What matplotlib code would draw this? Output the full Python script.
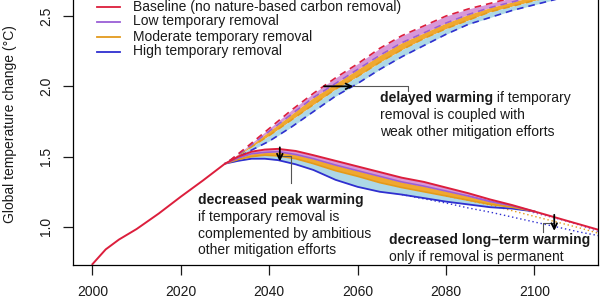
import matplotlib
matplotlib.use("Agg")
import matplotlib.pyplot as plt
from matplotlib.lines import Line2D

plt.rcParams['font.family'] = ['Liberation Sans', 'DejaVu Sans']
plt.rcParams['font.size'] = 10

# ---------------- data ----------------
base_years = [2000, 2003, 2006, 2010, 2015, 2020, 2025, 2030, 2033, 2036, 2039, 2042,
              2046, 2050, 2055, 2060, 2065, 2070, 2075, 2080, 2085, 2090, 2095, 2100,
              2105, 2110, 2115]
base_vals = [0.735, 0.84, 0.91, 0.985, 1.095, 1.215, 1.33, 1.45, 1.50, 1.535, 1.55, 1.555,
             1.54, 1.51, 1.47, 1.43, 1.39, 1.35, 1.32, 1.28, 1.24, 1.195, 1.155, 1.11,
             1.065, 1.02, 0.975]

# lower (ambitious mitigation) bundle
low_years = [2030, 2033, 2036, 2039, 2042, 2046, 2050, 2055, 2060, 2065, 2070, 2075,
             2080, 2085, 2090, 2095, 2100]
low_base = [1.45, 1.50, 1.535, 1.55, 1.555, 1.54, 1.51, 1.47, 1.43, 1.39, 1.35, 1.32,
            1.28, 1.24, 1.195, 1.155, 1.11]
low_low = [1.45, 1.49, 1.52, 1.53, 1.535, 1.515, 1.485, 1.44, 1.40, 1.36, 1.32, 1.29,
           1.255, 1.22, 1.18, 1.15, 1.11]
low_mod = [1.45, 1.48, 1.50, 1.51, 1.505, 1.485, 1.45, 1.40, 1.36, 1.315, 1.28, 1.25,
           1.22, 1.19, 1.16, 1.14, 1.11]
low_high = [1.45, 1.47, 1.485, 1.485, 1.475, 1.445, 1.405, 1.335, 1.285, 1.25, 1.23, 1.205,
            1.18, 1.16, 1.14, 1.13, 1.11]

# upper (weak mitigation) bundle
up_years = [2031, 2035, 2040, 2045, 2050, 2055, 2060, 2065, 2070, 2075, 2080, 2085,
            2090, 2095, 2100, 2105, 2110]
up_base = [1.47, 1.57, 1.70, 1.83, 1.95, 2.06, 2.16, 2.27, 2.36, 2.43, 2.50, 2.55,
           2.59, 2.63, 2.67, 2.70, 2.73]
up_low = [1.47, 1.56, 1.68, 1.80, 1.92, 2.02, 2.12, 2.22, 2.31, 2.38, 2.45, 2.51,
          2.56, 2.60, 2.64, 2.67, 2.70]
up_mod = [1.47, 1.55, 1.65, 1.76, 1.87, 1.98, 2.07, 2.17, 2.26, 2.34, 2.41, 2.47,
          2.53, 2.57, 2.61, 2.65, 2.68]
up_high = [1.47, 1.53, 1.61, 1.71, 1.82, 1.93, 2.02, 2.12, 2.21, 2.29, 2.37, 2.44,
           2.49, 2.54, 2.58, 2.62, 2.66]

# permanent removal (dotted)
perm_high_years = [2070, 2075, 2080, 2085, 2090, 2095, 2100, 2105, 2110, 2115]
perm_high = [1.23, 1.20, 1.17, 1.135, 1.105, 1.07, 1.035, 1.00, 0.965, 0.935]
perm_mod_years = [2080, 2085, 2090, 2095, 2100, 2105, 2110, 2115]
perm_mod = [1.22, 1.19, 1.155, 1.115, 1.075, 1.035, 0.995, 0.95]
perm_low_years = [2085, 2090, 2095, 2100, 2105, 2110, 2115]
perm_low = [1.22, 1.185, 1.145, 1.10, 1.06, 1.015, 0.96]

legend_labels = ["Baseline (no nature-based carbon removal)", "Low temporary removal",
                 "Moderate temporary removal", "High temporary removal"]
x_ticks = [2000, 2020, 2040, 2060, 2080, 2100]
y_ticks = [1.0, 1.5, 2.0, 2.5]
y_tick_labels = ["1.0", "1.5", "2.0", "2.5"]

# ---------------- styles ----------------
RED = "#DC1E3C"
PURPLE = "#9A5FD6"
ORANGE = "#E39A1C"
BLUE = "#2F2FD0"
F_PINK = "#D898D8"
F_ORANGE = "#F0A830"
F_BLUE = "#ADD8E6"
TXT = "#1a1a1a"

fig = plt.figure(figsize=(6, 3), dpi=100)
ax = fig.add_axes([73/600, 35/300, 525/600, 265/300])
ax.set_xlim(1995.6, 2114.4)
ax.set_ylim(0.729, 2.614)

# fills
ax.fill_between(up_years, up_base, up_low, color=F_PINK, lw=0)
ax.fill_between(up_years, up_low, up_mod, color=F_ORANGE, lw=0)
ax.fill_between(up_years, up_mod, up_high, color=F_BLUE, lw=0)
ax.fill_between(low_years, low_base, low_low, color=F_PINK, lw=0)
ax.fill_between(low_years, low_low, low_mod, color=F_ORANGE, lw=0)
ax.fill_between(low_years, low_mod, low_high, color=F_BLUE, lw=0)

dash = (0, (4, 3))
dot = (0, (1, 2))
ax.plot(up_years, up_high, color=BLUE, lw=1.2, ls=dash)
ax.plot(up_years, up_mod, color=ORANGE, lw=1.2, ls=dash)
ax.plot(up_years, up_low, color=PURPLE, lw=1.2, ls=dash)
ax.plot(up_years, up_base, color=RED, lw=1.2, ls=dash)

ax.plot(perm_high_years, perm_high, color=BLUE, lw=1.0, ls=dot)
ax.plot(perm_mod_years, perm_mod, color=ORANGE, lw=1.0, ls=dot)
ax.plot(perm_low_years, perm_low, color=PURPLE, lw=1.0, ls=dot)

ax.plot(low_years, low_high, color=BLUE, lw=1.3)
ax.plot(low_years, low_mod, color=ORANGE, lw=1.2)
ax.plot(low_years, low_low, color=PURPLE, lw=1.2)
ax.plot(base_years, base_vals, color=RED, lw=1.4)

# axes styling
for s in ["left", "bottom", "right"]:
    ax.spines[s].set_linewidth(0.9)
ax.spines["top"].set_visible(False)
ax.set_xticks(x_ticks)
ax.set_xticklabels([str(v) for v in x_ticks])
ax.set_yticks(y_ticks)
ax.set_yticklabels(y_tick_labels, rotation=90, va="center")
ax.tick_params(axis="both", length=7.2, width=0.9, direction="out", labelsize=10, colors=TXT)
ax.tick_params(axis="x", pad=7)
ax.tick_params(axis="y", pad=7)

fig.text(10/600, 1 - 124/300, "Global temperature change (°C)", rotation=90,
         ha="center", va="center", fontsize=10, color=TXT)

# legend (manual)
leg_colors = [RED, PURPLE, ORANGE, BLUE]
for i, (lab, col) in enumerate(zip(legend_labels, leg_colors)):
    yp = 1 - (6.5 + 15 * i) / 300
    fig.add_artist(Line2D([97/600, 120/600], [yp, yp], color=col, lw=1.3,
                          transform=fig.transFigure))
    fig.text(133/600, yp, lab, ha="left", va="center", fontsize=10, color=TXT)

# annotations
CONN = "#555555"
arrow_kw = dict(arrowstyle="->", lw=1.3, color="black", mutation_scale=10,
                shrinkA=0, shrinkB=0)

# delayed warming
ax.annotate("", xy=(2059.0, 2.0), xytext=(2052.4, 2.0), arrowprops=arrow_kw)
ax.plot([2059.0, 2071.4, 2071.4], [2.0, 2.0, 1.97], color=CONN, lw=0.8)
t1 = ax.text(2065.1, 1.914, "delayed warming", weight="bold", ha="left", va="center",
             fontsize=10, color=TXT)
ax.annotate(" if temporary", xy=(1, 0), xycoords=t1, ha="left", va="bottom",
            fontsize=10, color=TXT)
ax.text(2065.1, 1.793, "removal is coupled with", ha="left", va="center", fontsize=10, color=TXT)
ax.text(2065.1, 1.672, "weak other mitigation efforts", ha="left", va="center", fontsize=10, color=TXT)

# decreased peak warming
ax.annotate("", xy=(2042.4, 1.466), xytext=(2042.4, 1.566), arrowprops=arrow_kw)
ax.plot([2042.4, 2045.0, 2045.0], [1.502, 1.502, 1.31], color=CONN, lw=0.8)
ax.text(2023.9, 1.193, "decreased peak warming", weight="bold", ha="left", va="center",
        fontsize=10, color=TXT)
ax.text(2023.9, 1.072, "if temporary removal is", ha="left", va="center", fontsize=10, color=TXT)
ax.text(2023.9, 0.952, "complemented by ambitious", ha="left", va="center", fontsize=10, color=TXT)
ax.text(2023.9, 0.834, "other mitigation efforts", ha="left", va="center", fontsize=10, color=TXT)

# decreased long-term warming
ax.annotate("", xy=(2104.5, 0.972), xytext=(2104.5, 1.086), arrowprops=arrow_kw)
ax.plot([2104.5, 2102.0, 2102.0], [1.031, 1.031, 0.964], color=CONN, lw=0.8)
ax.text(2067.0, 0.907, "decreased long\u2013term warming", weight="bold", ha="left",
        va="center", fontsize=10, color=TXT)
ax.text(2067.0, 0.788, "only if removal is permanent", ha="left", va="center",
        fontsize=10, color=TXT)

fig.savefig("out.png", dpi=100)
